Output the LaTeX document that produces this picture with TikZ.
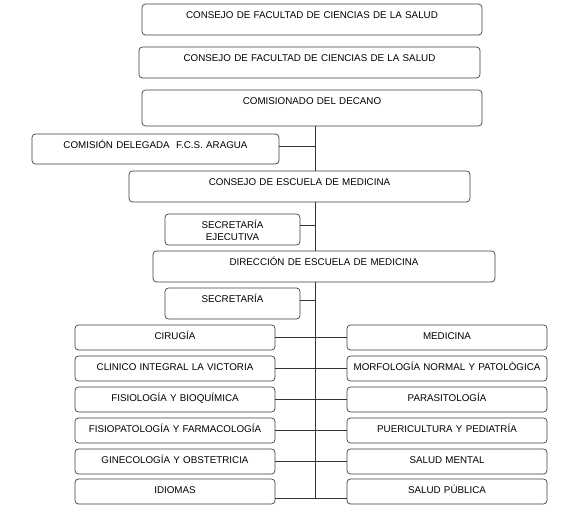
\documentclass[tikz,border=0pt]{standalone}
\usepackage{fontspec}
\setmainfont{Liberation Sans}
\usetikzlibrary{positioning}

\tikzset{
  box/.style 2 args={draw=black!75, line width=0.7pt, rounded corners=3.5pt, fill=white,
    anchor=north west, inner sep=0pt, outer sep=0pt, text width=#1, align=center,
    text height=14.5pt, text depth=#2, font=\fontsize{9.8}{12}\selectfont},
  row/.style={box={200pt}{10.5pt}},
  con/.style={draw=black!80, line width=0.8pt}
}

\begin{document}
\begin{tikzpicture}[x=1pt,y=-1pt]
\useasboundingbox[fill=white] (0,0) rectangle (582,516);

\node[box={340pt}{16.5pt}] (fac1) at (142,4) {CONSEJO DE FACULTAD DE CIENCIAS DE LA SALUD};
\node[box={341pt}{16.5pt}] (fac2) at (139,47) {CONSEJO DE FACULTAD DE CIENCIAS DE LA SALUD};
\node[box={340pt}{21.5pt}] (dec) at (142,90) {COMISIONADO DEL DECANO};
\node[box={247pt}{15.5pt}] (del) at (32,134) {COMISIÓN DELEGADA\ \ F.C.S. ARAGUA};
\node[box={341pt}{16.5pt}] (ce) at (129,171) {CONSEJO DE ESCUELA DE MEDICINA};
\node[box={135pt}{16.5pt}] (se) at (165,214) {SECRETARÍA\\EJECUTIVA};
\node[box={342pt}{16.5pt}] (dir) at (153,251) {DIRECCIÓN DE ESCUELA DE MEDICINA};
\node[box={135pt}{16.5pt}] (sec) at (165,288) {SECRETARÍA};

% left column
\node[row] (l1) at (75,325) {CIRUGÍA};
\node[row,below = 6pt of l1] (l2) {CLINICO INTEGRAL LA VICTORIA};
\node[row,below = 6pt of l2] (l3) {FISIOLOGÍA Y BIOQUÍMICA};
\node[row,below = 6pt of l3] (l4) {FISIOPATOLOGÍA Y FARMACOLOGÍA};
\node[row,below = 6pt of l4] (l5) {GINECOLOGÍA Y OBSTETRICIA};
\node[row,below = 5pt of l5] (l6) {IDIOMAS};

% right column
\node[row] (r1) at (347,325) {MEDICINA};
\node[row,below = 6pt of r1] (r2) {MORFOLOGÍA NORMAL Y PATOLÒGICA};
\node[row,below = 6pt of r2] (r3) {PARASITOLOGÍA};
\node[row,below = 6pt of r3] (r4) {PUERICULTURA Y PEDIATRÍA};
\node[row,below = 6pt of r4] (r5) {SALUD MENTAL};
\node[row,below = 5pt of r5] (r6) {SALUD PÚBLICA};

\coordinate (sp) at (315,0);
\coordinate (j1) at (315,146);
\coordinate (j2) at (315,225);
\coordinate (j3) at (315,300);
\coordinate (bot) at (315,498);

\draw[con] (dec.south -| sp) -- (ce.north -| sp);
\draw[con] (ce.south -| sp) -- (dir.north -| sp);
\draw[con] (dir.south -| sp) -- (bot);
\draw[con] (del.east |- j1) -- (j1);
\draw[con] (se.east |- j2) -- (j2);
\draw[con] (sec.east |- j3) -- (j3);
\draw[con] (l1.east) -- (r1.west);
\draw[con] (l2.east) -- (r2.west);
\draw[con] (l3.east) -- (r3.west);
\draw[con] (l4.east) -- (r4.west);
\draw[con] (l5.east) -- (r5.west);
\draw[con] (l6.east |- bot) -- (r6.west |- bot);

\end{tikzpicture}
\end{document}
